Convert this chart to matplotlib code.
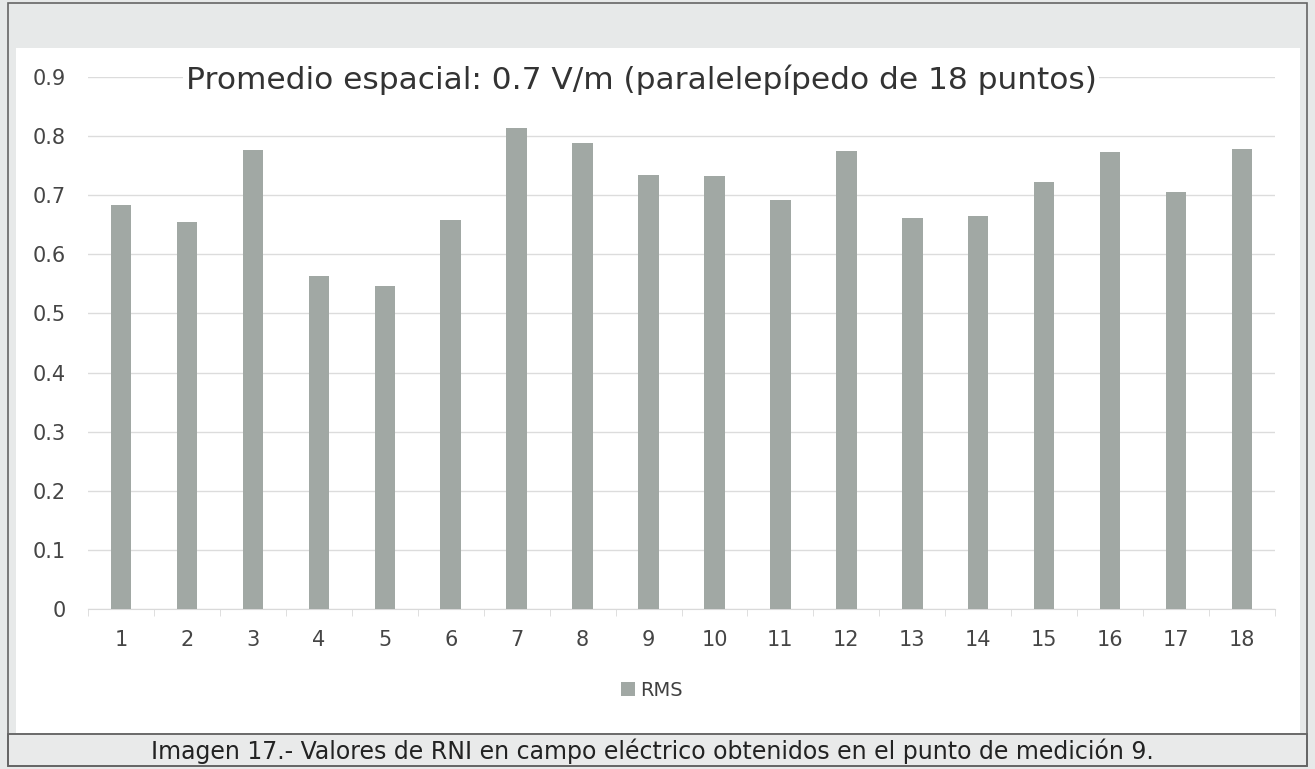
import numpy as np
import matplotlib
matplotlib.use('Agg')
import matplotlib.pyplot as plt
from matplotlib.patches import Rectangle

# puntos de medicion y valores RMS (V/m)
puntos = [str(i) for i in range(1, 19)]
rms = [0.683, 0.654, 0.776, 0.564, 0.546, 0.658, 0.814, 0.788, 0.735,
       0.733, 0.692, 0.774, 0.662, 0.665, 0.723, 0.773, 0.705, 0.779]
yticks = [0, 0.1, 0.2, 0.3, 0.4, 0.5, 0.6, 0.7, 0.8, 0.9]
ytick_labels = ['0', '0.1', '0.2', '0.3', '0.4', '0.5', '0.6', '0.7', '0.8', '0.9']

titulo = 'Promedio espacial: 0.7 V/m (paralelepípedo de 18 puntos)'
pie = 'Imagen 17.- Valores de RNI en campo eléctrico obtenidos en el punto de medición 9.'

plt.rcParams['font.family'] = ['DejaVu Sans']

W, H = 1315, 769
fig = plt.figure(figsize=(W / 100, H / 100), dpi=100)
fig.patch.set_facecolor('#e7e9e9')

def fx(px):
    return px / W

def fy(py):
    return 1 - py / H

# fondo blanco del grafico y banda del pie
fig.patches.append(Rectangle((fx(16), fy(733)), fx(1300 - 16), (733 - 48) / H,
                             transform=fig.transFigure, facecolor='white',
                             edgecolor='none', zorder=-2))
fig.patches.append(Rectangle((fx(8), fy(766)), fx(1307 - 8), (766 - 734) / H,
                             transform=fig.transFigure, facecolor='#e9eaea',
                             edgecolor='#555555', lw=1.2, zorder=-2))
fig.patches.append(Rectangle((fx(8), fy(766)), fx(1307 - 8), (766 - 3) / H,
                             transform=fig.transFigure, facecolor='none',
                             edgecolor='#666666', lw=1.2, zorder=-2))

ax = fig.add_axes([fx(88), fy(609), fx(1275 - 88), (609 - 77) / H])
ax.set_facecolor('none')
ax.set_zorder(1)

x = np.arange(len(puntos))
ax.bar(x, rms, width=0.31, color='#a1a8a4', label='RMS', zorder=3)

ax.set_xlim(-0.5, len(puntos) - 0.5)
ax.set_ylim(0, 0.9)
ax.set_yticks(yticks)
ax.set_yticklabels(ytick_labels)
ax.set_xticks(x)
ax.set_xticklabels(puntos)
ax.set_xticks(np.arange(-0.5, len(puntos)), minor=True)
ax.tick_params(axis='both', which='major', length=0, labelsize=15,
               labelcolor='#454545')
ax.tick_params(axis='x', which='major', pad=15)
ax.tick_params(axis='y', which='major', pad=16)
ax.tick_params(axis='x', which='minor', length=5, color='#d9d9d9')
ax.grid(axis='y', color='#dcdcdc', lw=1, zorder=0)
for s in ['top', 'right', 'left']:
    ax.spines[s].set_visible(False)
ax.spines['bottom'].set_color('#d9d9d9')

fig.text(fx(641), fy(80), titulo, ha='center', va='center', fontsize=22.5,
         color='#333333', zorder=5,
         bbox=dict(facecolor='white', edgecolor='none', pad=2))

fig.legend(loc='center', bbox_to_anchor=(fx(652), fy(690)), frameon=False,
           fontsize=14, handlelength=0.7, handleheight=0.7, handletextpad=0.3,
           labelcolor='#404040')

fig.text(fx(652), fy(751), pie, ha='center', va='center', fontsize=17,
         color='#222222')

plt.savefig('out.png', dpi=100)
plt.close()
